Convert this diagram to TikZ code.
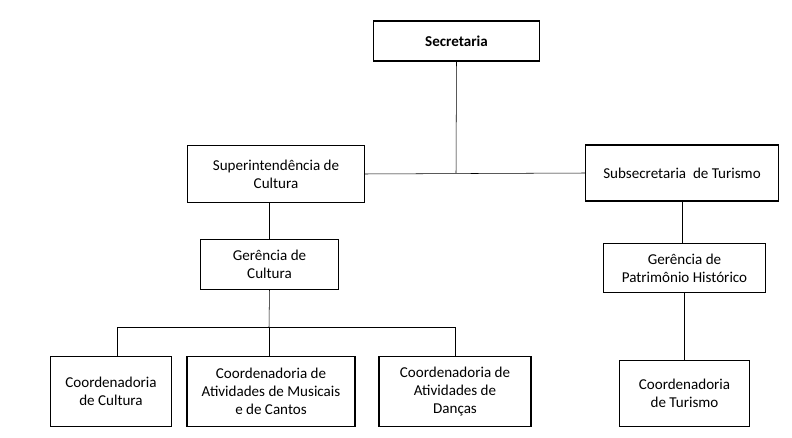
\documentclass[tikz,border=0pt]{standalone}
\usepackage{fontspec}
\setmainfont{Carlito}
\usetikzlibrary{positioning}

\begin{document}
\begin{tikzpicture}[x=0.75pt,y=-0.75pt,
  every node/.style={draw,thick,outer sep=0pt,align=center,font=\fontsize{11.3}{13.5}\selectfont},
  box/.style={inner sep=2pt}]
\useasboundingbox (0,0) rectangle (792,438);

\node (sec)   [box,minimum width=124pt,minimum height=30pt] at (456.5,41) {\textbf{Secretaria}};				% topo
\node (sup)   [box,minimum width=133pt,minimum height=43pt] at (276,174) {Superintendência de\\ Cultura};
\node (sub)   [box,minimum width=145pt,minimum height=42pt] at (682,173) {Subsecretaria\ \ de Turismo};
\node (gcult) [box,minimum width=104pt,minimum height=37pt] at (269.5,264.5) {Gerência de\\ Cultura};
\node (gpat)  [box,minimum width=121pt,minimum height=37pt] at (684.5,268) {Gerência de\\ Patrimônio Histórico};
\node (ccult) [box,minimum width=91pt,minimum height=52pt] at (111,391.5) {Coordenadoria\\ de Cultura};
\node (cmus)  [box,minimum width=126pt,minimum height=52pt] at (271,391.5) {Coordenadoria de\\ Atividades de Musicais\\ e de Cantos};
\node (cdan)  [box,minimum width=114pt,minimum height=52pt] at (455,391.5) {Coordenadoria de\\ Atividades de\\ Danças};
\node (ctur)  [box,minimum width=97pt,minimum height=50pt] at (684.5,393.5) {Coordenadoria\\ de Turismo};

\coordinate (mid) at (456,173);
\coordinate (bus) at (269,327);
\coordinate (busl) at (117,327);
\draw (sec.south) -- (mid);
\draw (sup.east) -- (sub.west);
\draw (sup.south -| gcult.north) -- (gcult.north);
\draw (gcult.south) -- (bus);
\draw (busl) -- (bus -| cdan.north);
\draw (busl) -- (busl |- ccult.north);
\draw (bus) -- (cmus.north -| bus);
\draw (bus -| cdan.north) -- (cdan.north);
\draw (sub.south) -- (gpat.north -| sub.south);
\draw (gpat.south) -- (ctur.north);
\end{tikzpicture}
\end{document}
